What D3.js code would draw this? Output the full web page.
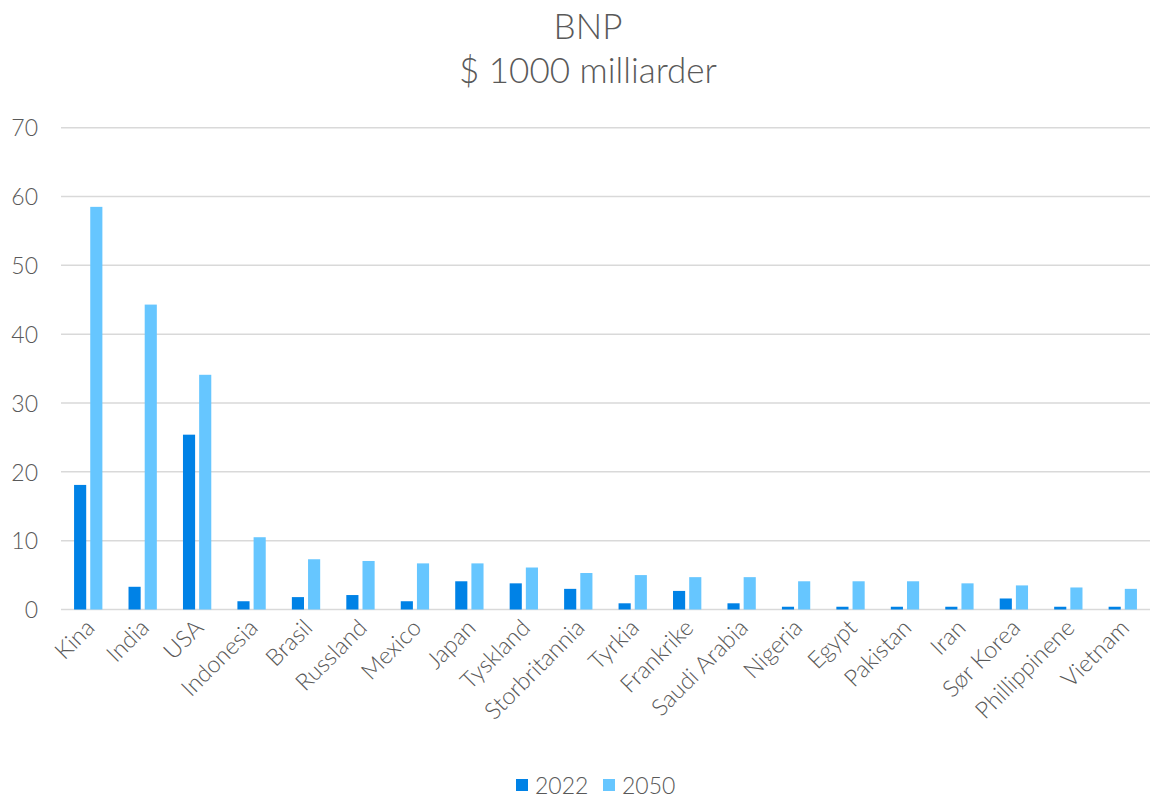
<!DOCTYPE html>
<html>
<head>
<meta charset="utf-8">
<script src="https://cdn.jsdelivr.net/npm/d3@7"></script>
<style>
  body { margin: 0; background: #fff; }
  svg text { font-family: "Lato", "Noto Sans", sans-serif; fill: #595959; font-weight: 300; }
</style>
</head>
<body>
<div id="graph_container" style="width:1152px;height:798px"></div>
<script>
// data
var countries = ["Kina", "India", "USA", "Indonesia", "Brasil", "Russland", "Mexico", "Japan",
                 "Tyskland", "Storbritannia", "Tyrkia", "Frankrike", "Saudi Arabia", "Nigeria",
                 "Egypt", "Pakistan", "Iran", "Sør Korea", "Phillippinene", "Vietnam"];
var series    = ["2022", "2050"];
var gdp2022   = [18.1, 3.3, 25.4, 1.2, 1.8, 2.1, 1.2, 4.1, 3.8, 3.0, 0.9, 2.7, 0.9, 0.4, 0.4, 0.4, 0.4, 1.6, 0.4, 0.4];
var gdp2050   = [58.5, 44.3, 34.1, 10.5, 7.3, 7.05, 6.7, 6.7, 6.1, 5.3, 5.0, 4.7, 4.7, 4.1, 4.1, 4.1, 3.8, 3.5, 3.2, 3.0];
var yTicks    = [0, 10, 20, 30, 40, 50, 60, 70];
var titleLines = ["BNP", "$ 1000 milliarder"];

var colors = { "2022": "#0082e6", "2050": "#66c6ff" };

var chartDiv = document.getElementById("graph_container");
var width    = 1152;
var height   = 798;
var svg      = d3.select(chartDiv).append("svg").attr("width", width).attr("height", height);

var plotLeft = 61, plotRight = 1150, plotTop = 127.7, plotBottom = 609.5;

var x0 = d3.scaleBand().domain(countries).range([plotLeft, plotRight]).paddingInner(0.48).paddingOuter(0.24);
var x1 = d3.scaleBand().domain(series).range([0, x0.bandwidth()]).paddingInner(0.25);
var y  = d3.scaleLinear().domain([0, 70]).range([plotBottom, plotTop]);

// title
svg.append("g").selectAll("text").data(titleLines).enter().append("text")
    .attr("x", 588)
    .attr("y", function(d, i) { return 39 + i * 44; })
    .attr("text-anchor", "middle")
    .style("font-size", "35px")
    .text(function(d) { return d; });

// gridlines
svg.append("g").selectAll("line").data(yTicks).enter().append("line")
    .attr("x1", plotLeft).attr("x2", plotRight)
    .attr("y1", function(d) { return y(d); })
    .attr("y2", function(d) { return y(d); })
    .attr("stroke", "#d9d9d9")
    .attr("stroke-width", 1.5);

// y axis labels
var yAxis = svg.append("g").attr("transform", "translate(" + (plotLeft - 23) + ",0)")
    .call(d3.axisLeft(y).tickValues(yTicks).tickSize(0).tickPadding(0));
yAxis.select(".domain").remove();
yAxis.selectAll("text").style("font-size", "23px").attr("fill", "#595959").attr("dy", "0.36em");

// bars
var rows = countries.map(function(c, i) { return { name: c, "2022": gdp2022[i], "2050": gdp2050[i] }; });
var groups = svg.append("g").selectAll("g").data(rows).enter().append("g")
    .attr("transform", function(d) { return "translate(" + x0(d.name) + ",0)"; });
groups.selectAll("rect")
    .data(function(d) { return series.map(function(k) { return { key: k, value: d[k] }; }); })
    .enter().append("rect")
    .attr("x", function(d) { return x1(d.key); })
    .attr("y", function(d) { return y(d.value); })
    .attr("width", x1.bandwidth())
    .attr("height", function(d) { return plotBottom - y(d.value); })
    .attr("fill", function(d) { return colors[d.key]; });

// x axis labels
var xAxis = svg.append("g").attr("transform", "translate(0," + (plotBottom + 14) + ")")
    .call(d3.axisBottom(x0).tickSize(0).tickPadding(0));
xAxis.select(".domain").remove();
xAxis.selectAll("text")
    .style("font-size", "23.5px")
    .attr("fill", "#595959")
    .attr("text-anchor", "end")
    .attr("dy", "0.35em")
    .attr("transform", "translate(2,0) rotate(-45)");

// legend
var legend = svg.append("g").attr("transform", "translate(516,779)");
var item = legend.selectAll("g").data(series).enter().append("g")
    .attr("transform", function(d, i) { return "translate(" + (i * 87) + ",0)"; });
item.append("rect").attr("width", 12).attr("height", 12)
    .attr("fill", function(d) { return colors[d]; });
item.append("text").attr("x", 19).attr("y", 15)
    .style("font-size", "23px")
    .text(function(d) { return d; });
</script>
</body>
</html>
